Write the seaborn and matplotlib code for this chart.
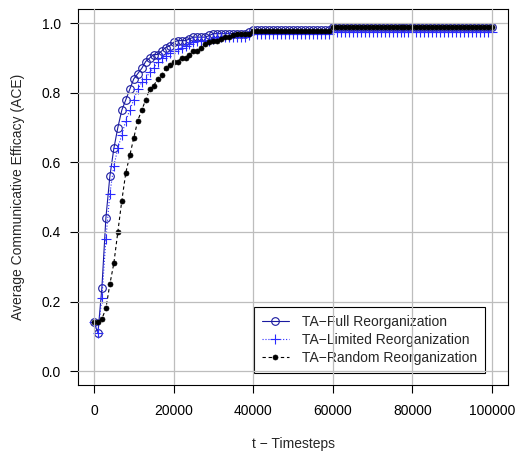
import matplotlib
matplotlib.use("Agg")
import matplotlib.pyplot as plt
import numpy as np
import pandas as pd
import seaborn as sns

# Timesteps sampled every 1000 steps from 0 to 100000
timesteps = list(range(0, 100001, 1000))

ace_full = [
    0.14, 0.11, 0.24, 0.44, 0.56, 0.64, 0.70, 0.75, 0.78, 0.81,
    0.84, 0.855, 0.87, 0.89, 0.90, 0.91, 0.91, 0.92, 0.93, 0.935,
    0.945, 0.95, 0.95, 0.95, 0.955, 0.96, 0.96, 0.96, 0.96, 0.965,
    0.97, 0.97, 0.97, 0.97, 0.97, 0.97, 0.97, 0.97, 0.97, 0.975,
    0.98, 0.98, 0.98, 0.98, 0.98, 0.98, 0.98, 0.98, 0.98, 0.98,
    0.98, 0.98, 0.98, 0.98, 0.98, 0.98, 0.98, 0.98, 0.98, 0.98,
    0.99, 0.99, 0.99, 0.99, 0.99, 0.99, 0.99, 0.99, 0.99, 0.99,
    0.99, 0.99, 0.99, 0.99, 0.99, 0.99, 0.99, 0.99, 0.99, 0.99,
    0.99, 0.99, 0.99, 0.99, 0.99, 0.99, 0.99, 0.99, 0.99, 0.99,
    0.99, 0.99, 0.99, 0.99, 0.99, 0.99, 0.99, 0.99, 0.99, 0.99,
    0.99,
]

ace_limited = [
    0.14, 0.11, 0.21, 0.38, 0.51, 0.59, 0.64, 0.68, 0.72, 0.75,
    0.78, 0.81, 0.83, 0.84, 0.86, 0.87, 0.89, 0.90, 0.905, 0.915,
    0.92, 0.925, 0.93, 0.935, 0.94, 0.945, 0.95, 0.95, 0.95, 0.95,
    0.955, 0.96, 0.96, 0.96, 0.96, 0.96, 0.96, 0.96, 0.96, 0.965,
    0.97, 0.97, 0.97, 0.97, 0.97, 0.97, 0.97, 0.97, 0.97, 0.97,
    0.97, 0.97, 0.97, 0.97, 0.97, 0.97, 0.97, 0.97, 0.97, 0.97,
    0.975, 0.975, 0.975, 0.975, 0.975, 0.975, 0.975, 0.975, 0.975, 0.975,
    0.975, 0.975, 0.975, 0.975, 0.975, 0.975, 0.975, 0.975, 0.975, 0.975,
    0.975, 0.975, 0.975, 0.975, 0.975, 0.975, 0.975, 0.975, 0.975, 0.975,
    0.975, 0.975, 0.975, 0.975, 0.975, 0.975, 0.975, 0.975, 0.975, 0.975,
    0.975,
]

ace_random = [
    0.14, 0.14, 0.15, 0.18, 0.25, 0.31, 0.40, 0.49, 0.57, 0.62,
    0.67, 0.72, 0.75, 0.78, 0.81, 0.82, 0.84, 0.85, 0.87, 0.88,
    0.89, 0.89, 0.90, 0.90, 0.91, 0.92, 0.92, 0.93, 0.94, 0.945,
    0.95, 0.95, 0.955, 0.96, 0.96, 0.965, 0.97, 0.97, 0.97, 0.97,
    0.978, 0.978, 0.978, 0.978, 0.978, 0.978, 0.978, 0.978, 0.978, 0.978,
    0.978, 0.978, 0.978, 0.978, 0.978, 0.978, 0.978, 0.978, 0.978, 0.978,
    0.99, 0.99, 0.99, 0.99, 0.99, 0.99, 0.99, 0.99, 0.99, 0.99,
    0.99, 0.99, 0.99, 0.99, 0.99, 0.99, 0.99, 0.99, 0.99, 0.99,
    0.99, 0.99, 0.99, 0.99, 0.99, 0.99, 0.99, 0.99, 0.99, 0.99,
    0.99, 0.99, 0.99, 0.99, 0.99, 0.99, 0.99, 0.99, 0.99, 0.99,
    0.99,
]

series_labels = [
    "TA\u2212Full Reorganization",
    "TA\u2212Limited Reorganization",
    "TA\u2212Random Reorganization",
]
x_ticks = [0, 20000, 40000, 60000, 80000, 100000]
y_ticks = [0.0, 0.2, 0.4, 0.6, 0.8, 1.0]

sns.set_theme(style="ticks")
plt.rcParams["font.family"] = ["Liberation Sans", "DejaVu Sans"]
plt.rcParams["axes.linewidth"] = 0.8

df = pd.DataFrame({
    "t": timesteps,
    "full": ace_full,
    "limited": ace_limited,
    "random": ace_random,
})

fig = plt.figure(figsize=(5.18, 4.57), dpi=100)
ax = fig.add_axes([0.1506, 0.1575, 0.8301, 0.8221])

styles = [
    dict(y="full", color="#1a1aa0", linestyle="-", marker="o", markersize=5.5,
         markerfacecolor="none", markeredgecolor="#1a1aa0", markeredgewidth=0.8),
    dict(y="limited", color="#2a2aff", linestyle=":", marker="+", markersize=7,
         markeredgecolor="#2a2aff", markeredgewidth=0.8),
    dict(y="random", color="black", linestyle=(0, (3, 2.5)), marker="o", markersize=3.6,
         markerfacecolor="black", markeredgecolor="black", markeredgewidth=0.5),
]
handles = []
for st, lab in zip(styles, series_labels):
    st = dict(st)
    ycol = st.pop("y")
    sns.lineplot(data=df, x="t", y=ycol, ax=ax, linewidth=0.8, **st)
    handles.append(ax.lines[-1])

ax.set_xlim(-4000, 104000)
ax.set_ylim(-0.04, 1.04)
ax.set_xticks(x_ticks)
ax.set_xticklabels([str(v) for v in x_ticks])
ax.set_yticks(y_ticks)
ax.set_yticklabels([f"{v:.1f}" for v in y_ticks])
ax.tick_params(axis="both", direction="out", length=5.5, width=0.8,
               labelsize=10, colors="black", pad=4)
ax.tick_params(axis="x", pad=8)
ax.tick_params(axis="y", pad=7)

for s in ax.spines.values():
    s.set_visible(True)
    s.set_color("black")
    s.set_linewidth(0.8)

ax.set_xlabel("t \u2212 Timesteps", fontsize=10, labelpad=14)
ax.set_ylabel("Average Communicative Efficacy (ACE)", fontsize=10, labelpad=12)

leg = ax.legend(handles, series_labels, loc="lower left",
                bbox_to_anchor=(0.409, 0.033), borderaxespad=0,
                fancybox=False, framealpha=1, edgecolor="black",
                fontsize=10, handlelength=2.0, handletextpad=0.9,
                labelspacing=0.3, borderpad=0.55)
leg.get_frame().set_linewidth(0.8)
leg.set_zorder(5)

# grid lines drawn last, over the data and legend
for xv in x_ticks:
    ax.axvline(xv, color="#bdbdbd", linewidth=0.9, zorder=6)
for yv in y_ticks:
    ax.axhline(yv, color="#bdbdbd", linewidth=0.9, zorder=6)

fig.savefig("out.png", dpi=100)
